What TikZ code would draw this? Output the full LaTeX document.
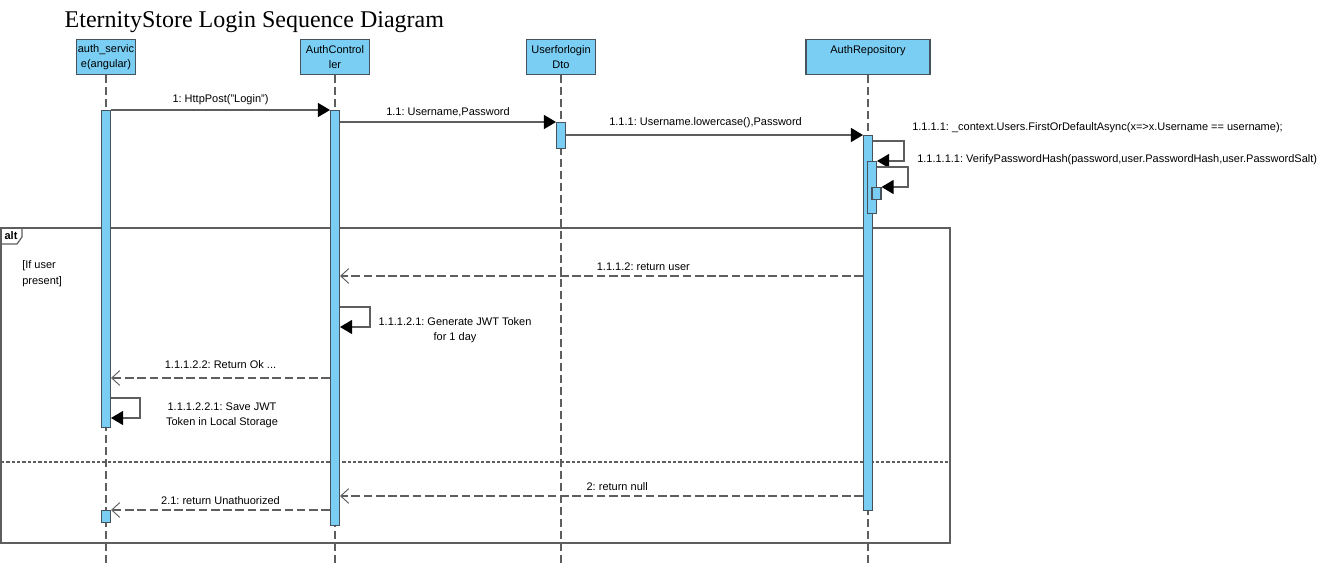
\documentclass[tikz,border=0pt]{standalone}
\usepackage{fontspec}
\setmainfont{Liberation Sans}
\newfontfamily\titlefont{Liberation Serif}
\usetikzlibrary{arrows.meta}
\definecolor{actblue}{HTML}{7ACEF4}
\definecolor{linegray}{HTML}{5E5E5E}
\definecolor{boxgray}{HTML}{46535C}
\frenchspacing

\begin{document}
\begin{tikzpicture}[x=0.75pt,y=-0.75pt,
  font=\fontsize{8.25}{11.25}\selectfont,
  head/.style={draw=boxgray,fill=actblue,line width=0.9pt,anchor=north,
    minimum width=#1*0.75pt,minimum height=26.25pt,inner sep=1pt,align=center},
  act/.style={draw=boxgray,fill=actblue,line width=0.8pt,anchor=north,
    minimum width=6.75pt,minimum height=#1*0.75pt,inner sep=0pt},
  lifeline/.style={draw=linegray,line width=0.9pt,dash pattern=on 6pt off 3pt},
  msg/.style={draw=linegray,line width=0.9pt,-{Triangle[length=9pt,width=10.5pt,color=black]}},
  ret/.style={draw=linegray,line width=0.9pt,dash pattern=on 6.5pt off 2.7pt,
    -{Straight Barb[length=6pt,width=11pt,line width=0.7pt]}},
  lbl/.style={above=#1,inner sep=2pt},
  frame/.style={draw=linegray,line width=0.9pt}]
\useasboundingbox (0,0) rectangle (1333,573);
\node[anchor=base west,font=\titlefont\fontsize{18}{20}\selectfont] (title) at (60,28) {EternityStore Login Sequence Diagram};

\coordinate (bot) at (0,567);
\coordinate (retuser) at (0,276);
\coordinate (jwt) at (0,307);
\coordinate (retok) at (0,378);
\coordinate (save) at (0,398);
\coordinate (retnull) at (0,496);

\node[head=55] (svc) at (106,39) {auth\_servic\\e(angular)};
\node[head=69] (ctrl) at (335,39) {AuthControl\\ler};
\node[head=69] (dto) at (561,39) {Userforlogin\\Dto};
\node[head=124] (repo) at (868,39) {AuthRepository\\\mbox{}};

\draw[lifeline] (svc.south) -- (svc.south |- bot);
\draw[lifeline] (ctrl.south) -- (ctrl.south |- bot);
\draw[lifeline] (dto.south) -- (dto.south |- bot);
\draw[lifeline] (repo.south) -- (repo.south |- bot);

\draw[frame] (1,228) rectangle (950,543);
\draw[frame] (1,228) -- (22,228) -- (22,237) -- (17,244) -- (1,244);
\node[font=\fontsize{8.25}{10}\selectfont\bfseries] (alt) at (11,236) {alt};
\node[anchor=north west,align=left,inner sep=0pt,font=\fontsize{8.25}{12}\selectfont] (guard) at (22,260) {[If user\\present]};
\draw[draw=linegray,line width=0.9pt,dash pattern=on 2.4pt off 1.6pt] (1,462) -- (950,462);

\node[act=317] (svcA) at (106,110) {};
\node[act=12] (svcB) at (106,510) {};
\node[act=415] (ctrlA) at (335,110) {};
\node[act=26] (dtoA) at (561,122) {};
\node[act=375] (repoA) at (868,135) {};
\node[act=52] (repoB) at (872,161) {};
\node[act=12] (repoC) at (876.5,187) {};

\draw[msg] (svcA.north east) -- node[lbl=1.5pt] {1: HttpPost("Login")} (ctrlA.north west);
\draw[msg] (ctrlA.east |- dtoA.north) -- node[lbl=1.5pt] {1.1: Username,Password} (dtoA.north west);
\draw[msg] (dtoA.east |- repoA.north) -- node[lbl=3pt,pos=0.47] {1.1.1: Username.lowercase(),Password} (repoA.north west);
\draw[msg] (repoA.north east) ++(0,6) -- ++(31,0) |- (repoB.north east);
\node[anchor=west,inner sep=0pt] (m1111) at (912,128) {1.1.1.1: \_context.Users.FirstOrDefaultAsync(x=>x.Username == username);};
\draw[msg] (repoB.north east) ++(0,6) -- ++(31,0) |- (repoC.north east);
\node[anchor=west,inner sep=0pt] (m11111) at (917,160) {1.1.1.1.1: VerifyPasswordHash(password,user.PasswordHash,user.PasswordSalt)};

\draw[ret] (repoA.west |- retuser) -- node[lbl=1.5pt,pos=0.42] {1.1.1.2: return user} (ctrlA.east |- retuser);
\draw[msg] (ctrlA.east |- jwt) -- ++(30,0) -- ++(0,20) -- ++(-30,0);
\node[align=center] (m11121) at (455,330) {1.1.1.2.1: Generate JWT Token\\for 1 day};
\draw[ret] (ctrlA.west |- retok) -- node[lbl=4.5pt] {1.1.1.2.2: Return Ok ...} (svcA.east |- retok);
\draw[msg] (svcA.east |- save) -- ++(29,0) -- ++(0,20) -- ++(-29,0);
\node[align=center] (m111221) at (222,415) {1.1.1.2.2.1: Save JWT\\Token in Local Storage};

\draw[ret] (repoA.west |- retnull) -- node[lbl=1.5pt,pos=0.47] {2: return null} (ctrlA.east |- retnull);
\draw[ret] (ctrlA.west |- svcB.north) -- node[lbl=1.5pt] {2.1: return Unathuorized} (svcB.north east);
\end{tikzpicture}
\end{document}
